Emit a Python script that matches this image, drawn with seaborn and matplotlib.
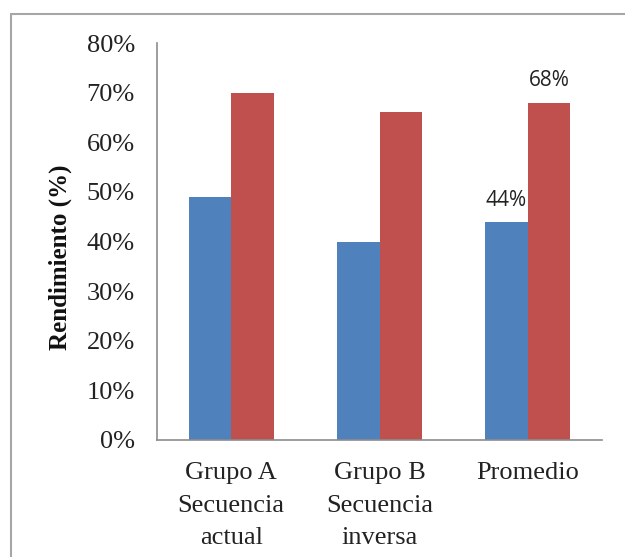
import matplotlib
matplotlib.use("Agg")
import matplotlib.pyplot as plt
from matplotlib.lines import Line2D
import seaborn as sns
import pandas as pd

categories = ["Grupo A\nSecuencia\nactual", "Grupo B\nSecuencia\ninversa", "Promedio"]
series_names = ["Serie 1", "Serie 2"]
serie1 = [0.49, 0.40, 0.44]
serie2 = [0.70, 0.66, 0.68]
y_ticks = [0, 0.1, 0.2, 0.3, 0.4, 0.5, 0.6, 0.7, 0.8]
y_tick_labels = ["0%", "10%", "20%", "30%", "40%", "50%", "60%", "70%", "80%"]
colors = ["#4F81BD", "#C0504D"]

df = pd.DataFrame({
    "Categoria": categories * 2,
    "Serie": [series_names[0]] * 3 + [series_names[1]] * 3,
    "Valor": serie1 + serie2,
})

sns.set_style("white")
plt.rcParams["font.family"] = ["Liberation Serif", "DejaVu Serif"]

fig = plt.figure(figsize=(6.25, 5.57), dpi=100)
ax = fig.add_axes([157 / 625, 1 - 440 / 557, 445 / 625, 397 / 557])

sns.barplot(data=df, x="Categoria", y="Valor", hue="Serie", palette=colors,
            saturation=1, width=0.575, gap=0, linewidth=0, legend=False,
            ax=ax, errorbar=None)

ax.set_ylim(0, 0.8)
ax.set_xlim(-0.5, 2.5)
ax.set_yticks(y_ticks)
ax.set_yticklabels(y_tick_labels, fontsize=19, color="#222222")
ax.tick_params(axis="x", labelsize=19, labelcolor="#222222", length=0, pad=16)
ax.tick_params(axis="y", length=0, pad=16)
for lbl in ax.get_xticklabels():
    lbl.set_linespacing(1.62)
    lbl.set_verticalalignment("top")
ax.set_xlabel("")
ax.set_ylabel("Rendimiento (%)", fontsize=18, fontweight="bold", color="#111111")
ax.yaxis.set_label_coords(-0.19, 0.46)

for side in ["top", "right"]:
    ax.spines[side].set_visible(False)
for side in ["left", "bottom"]:
    ax.spines[side].set_color("#8C8C8C")
    ax.spines[side].set_linewidth(1.2)

# data labels on the Promedio bars
for cont, vals in zip(ax.containers, [serie1, serie2]):
    bar = cont.patches[2]
    x = bar.get_x() + bar.get_width() / 2
    ax.annotate(f"{round(vals[2] * 100):d}%", (x, bar.get_height()),
                xytext=(0, 8), textcoords="offset points", ha="center", va="bottom",
                fontsize=15, family=["Open Sans", "DejaVu Sans"], color="#222222")

# outer chart border (left and top visible)
fig.add_artist(Line2D([11 / 625, 11 / 625], [-0.05, 1 - 14 / 557], transform=fig.transFigure,
                      color="#A6A6A6", linewidth=1.5))
fig.add_artist(Line2D([11 / 625, 1.05], [1 - 14 / 557, 1 - 14 / 557], transform=fig.transFigure,
                      color="#A6A6A6", linewidth=1.5))

fig.savefig("out.png", dpi=100)
